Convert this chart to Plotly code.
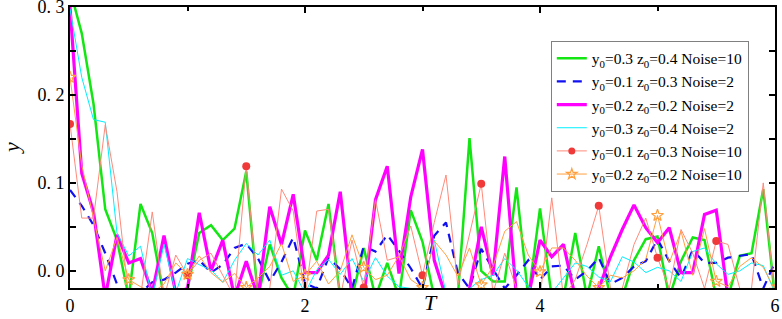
import plotly.graph_objects as go

T = [round(i * 0.1, 1) for i in range(61)]

green = [0.32, 0.27, 0.19, 0.07, 0.035, -0.03, 0.076, 0.043, -0.03, -0.04,
         -0.02, 0.043, 0.052, 0.035, 0.048, 0.113, -0.03, 0.03, -0.008, -0.03,
         0.046, 0.012, 0.076, -0.03, -0.03, 0.026, -0.03, 0.009, -0.03, 0.069,
         0.033, -0.03, -0.03, -0.03, 0.151, 0.0, -0.012, -0.012, 0.095, -0.03,
         0.071, -0.03, -0.03, 0.043, -0.03, 0.028, -0.03, -0.03, 0.012, 0.036,
         0.039, -0.03, 0.011, 0.038, 0.035, -0.03, -0.03, 0.017, 0.02, 0.093,
         -0.03]
blue = [0.092, 0.074, 0.052, 0.02, -0.015, -0.03, -0.025, -0.013, -0.01, -0.002,
        0.008, 0.012, -0.002, 0.007, 0.026, 0.031, 0.014, -0.012, 0.01, 0.038,
        -0.014, -0.02, 0.015, 0.002, -0.02, 0.028, 0.022, 0.041, 0.023, 0.003,
        -0.02, 0.04, 0.055, -0.002, -0.02, 0.025, 0.002, -0.02, -0.005, 0.012,
        -0.01, 0.005, 0.006, -0.01, 0.0, 0.015, -0.015, -0.008, 0.005, 0.011,
        0.036, 0.011, -0.008, 0.024, 0.009, 0.009, 0.015, 0.017, 0.019, -0.02,
        0.01]
magenta = [0.3, 0.111, 0.067, -0.03, 0.041, 0.009, 0.014, -0.025, 0.04, -0.025,
           -0.02, 0.066, 0.0, 0.035, -0.03, 0.011, -0.03, 0.073, 0.03, 0.087,
           -0.002, -0.002, 0.018, 0.09, -0.03, -0.03, 0.081, 0.119, -0.003, 0.084,
           0.138, 0.012, -0.03, -0.03, -0.02, 0.05, -0.005, 0.13, -0.03, -0.03,
           0.035, 0.016, 0.03, -0.03, -0.03, -0.02, 0.016, 0.047, 0.075, 0.049,
           0.032, 0.049, -0.002, -0.002, 0.064, 0.069, -0.03, -0.03, -0.03, -0.03,
           -0.03]
cyan = [0.298, 0.22, 0.172, 0.169, 0.043, 0.017, 0.028, -0.03, 0.03, -0.025,
        0.014, 0.007, 0.001, -0.013, 0.012, 0.031, 0.018, 0.035, -0.005, 0.0,
        -0.025, 0.001, 0.013, -0.004, 0.014, -0.012, 0.015, -0.006, -0.018, -0.02,
        -0.02, 0.035, -0.025, -0.03, -0.02, -0.01, -0.005, 0.014, 0.001, -0.018,
        -0.025, -0.025, -0.008, 0.009, 0.005, -0.007, -0.012, 0.016, 0.01, -0.002,
        0.004, 0.0, -0.012, 0.022, 0.026, 0.008, -0.004, 0.0, 0.009, 0.006,
        -0.025]
red = [0.167, 0.06, 0.06, 0.166, 0.09, -0.03, -0.03, 0.067, -0.03, 0.018,
       -0.005, 0.012, 0.02, -0.005, -0.03, 0.119, -0.03, -0.02, 0.093, 0.068,
       -0.03, 0.068, 0.07, -0.03, 0.035, -0.019, 0.081, 0.012, 0.016, 0.051,
       -0.005, 0.055, 0.109, -0.016, 0.04, 0.099, -0.025, 0.02, -0.02, -0.03,
       -0.03, 0.083, -0.03, -0.01, 0.03, 0.074, -0.02, -0.02, 0.03, 0.06,
       0.015, -0.02, 0.047, 0.02, -0.02, 0.034, 0.03, -0.02, -0.02, 0.1,
       -0.03]
orange = [0.22, 0.12, 0.06, 0.0, 0.038, -0.01, -0.018, -0.025, -0.015, 0.009,
          -0.004, 0.017, -0.002, -0.013, -0.003, -0.019, -0.008, 0.005, 0.031, -0.012,
          -0.005, 0.011, -0.015, 0.0, 0.041, 0.004, -0.01, -0.005, 0.017, -0.01,
          -0.019, 0.034, 0.018, -0.006, 0.026, -0.016, 0.005, 0.045, 0.056, 0.018,
          -0.001, 0.026, 0.026, 0.012, -0.006, -0.019, -0.005, -0.008, 0.0, 0.013,
          0.063, 0.009, 0.045, -0.005, 0.048, -0.012, -0.018, 0.005, 0.015, 0.004,
          -0.022]

names = ["y<sub>0</sub>=0.3 z<sub>0</sub>=0.4 Noise=10",
         "y<sub>0</sub>=0.1 z<sub>0</sub>=0.3 Noise=2",
         "y<sub>0</sub>=0.2 z<sub>0</sub>=0.2 Noise=2",
         "y<sub>0</sub>=0.3 z<sub>0</sub>=0.4 Noise=2",
         "y<sub>0</sub>=0.1 z<sub>0</sub>=0.3 Noise=10",
         "y<sub>0</sub>=0.2 z<sub>0</sub>=0.2 Noise=10"]

yticks = [0.0, 0.1, 0.2, 0.3]
ytick_text = ["0. 0", "0. 1", "0. 2", "0. 3"]
xticks = [0, 2, 4, 6]

C_GREEN = "#14E614"
C_BLUE = "#1010F0"
C_MAG = "#FF00FF"
C_CYAN = "#00F0FF"
C_SALMON = "#FF8A7A"
C_RED = "#F03A3A"
C_ORANGE = "#FFA040"

mk_idx = list(range(0, 61, 5))

fig = go.Figure()
fig.add_trace(go.Scatter(x=T, y=green, mode="lines", name=names[0], legendrank=1,
                         line=dict(color=C_GREEN, width=2.5)))
fig.add_trace(go.Scatter(x=T, y=blue, mode="lines", name=names[1], legendrank=2,
                         line=dict(color=C_BLUE, width=2.2, dash="9px,7px")))
fig.add_trace(go.Scatter(x=T, y=magenta, mode="lines", name=names[2], legendrank=3,
                         line=dict(color=C_MAG, width=3.2)))
fig.add_trace(go.Scatter(x=T, y=cyan, mode="lines", name=names[3], legendrank=4,
                         line=dict(color=C_CYAN, width=1)))
fig.add_trace(go.Scatter(x=T, y=red, mode="lines", showlegend=False,
                         line=dict(color=C_SALMON, width=1)))
fig.add_trace(go.Scatter(x=[T[i] for i in mk_idx], y=[red[i] for i in mk_idx],
                         mode="markers", showlegend=False,
                         marker=dict(color=C_RED, size=8, symbol="circle")))
fig.add_trace(go.Scatter(x=T, y=orange, mode="lines", showlegend=False,
                         line=dict(color=C_ORANGE, width=1)))
fig.add_trace(go.Scatter(x=[T[i] for i in mk_idx], y=[orange[i] for i in mk_idx],
                         mode="markers", showlegend=False,
                         marker=dict(color=C_ORANGE, size=9, symbol="star-open",
                                     line=dict(width=1.2, color=C_ORANGE))))
# legend entries for marker series
fig.add_trace(go.Scatter(x=[None], y=[None], mode="lines+markers", name=names[4], legendrank=5,
                         line=dict(color=C_SALMON, width=1),
                         marker=dict(color=C_RED, size=7, symbol="circle")))
fig.add_trace(go.Scatter(x=[None], y=[None], mode="lines+markers", name=names[5], legendrank=6,
                         line=dict(color=C_ORANGE, width=1),
                         marker=dict(color=C_ORANGE, size=8, symbol="star-open",
                                     line=dict(width=1.2, color=C_ORANGE))))

font_family = "Liberation Serif, Times New Roman, serif"

fig.update_layout(
    width=782, height=319,
    margin=dict(l=70, r=7, t=7, b=31, autoexpand=False),
    paper_bgcolor="white", plot_bgcolor="white",
    font=dict(family=font_family, size=17, color="black"),
    showlegend=True,
    legend=dict(x=0.682, y=0.88, xanchor="left", yanchor="top",
                bgcolor="white", bordercolor="#808080", borderwidth=1,
                font=dict(family=font_family, size=15.5, color="black"),
                tracegroupgap=0, itemwidth=30),
    xaxis=dict(range=[0, 6], tickvals=xticks, ticks="inside", ticklen=6, tickwidth=2,
               tickcolor="black", showline=True, linecolor="black", linewidth=2,
               mirror="ticks", showgrid=False, zeroline=False, automargin=False,
               ticklabeloverflow="allow",
               tickfont=dict(family=font_family, size=18),
               minor=dict(tickvals=[1, 3, 5], ticks="inside", ticklen=4, tickwidth=1.5,
                          tickcolor="black", showgrid=False)),
    yaxis=dict(range=[-0.0195, 0.3], tickvals=yticks, ticktext=ytick_text,
               ticks="inside", ticklen=6, tickwidth=2, tickcolor="black",
               showline=True, linecolor="black", linewidth=2, mirror="ticks",
               showgrid=False, zeroline=False, automargin=False,
               ticklabeloverflow="allow",
               tickfont=dict(family=font_family, size=18),
               minor=dict(tickvals=[0.05, 0.15, 0.25], ticks="inside", ticklen=6,
                          tickwidth=1.5, tickcolor="black", showgrid=False)),
    annotations=[
        dict(text="<i>T</i>", x=3.07, y=-0.053, xref="x", yref="paper", yanchor="middle",
             showarrow=False, font=dict(family=font_family, size=22)),
        dict(text="<i>y</i>", x=-0.083, y=0.5, xref="paper", yref="paper",
             xanchor="center", yanchor="middle",
             textangle=-90, showarrow=False, font=dict(family=font_family, size=22)),
    ],
)

fig.write_html("out.html", config={"displayModeBar": False},
               post_script="document.body.style.margin='0px';document.body.style.overflow='hidden';")
